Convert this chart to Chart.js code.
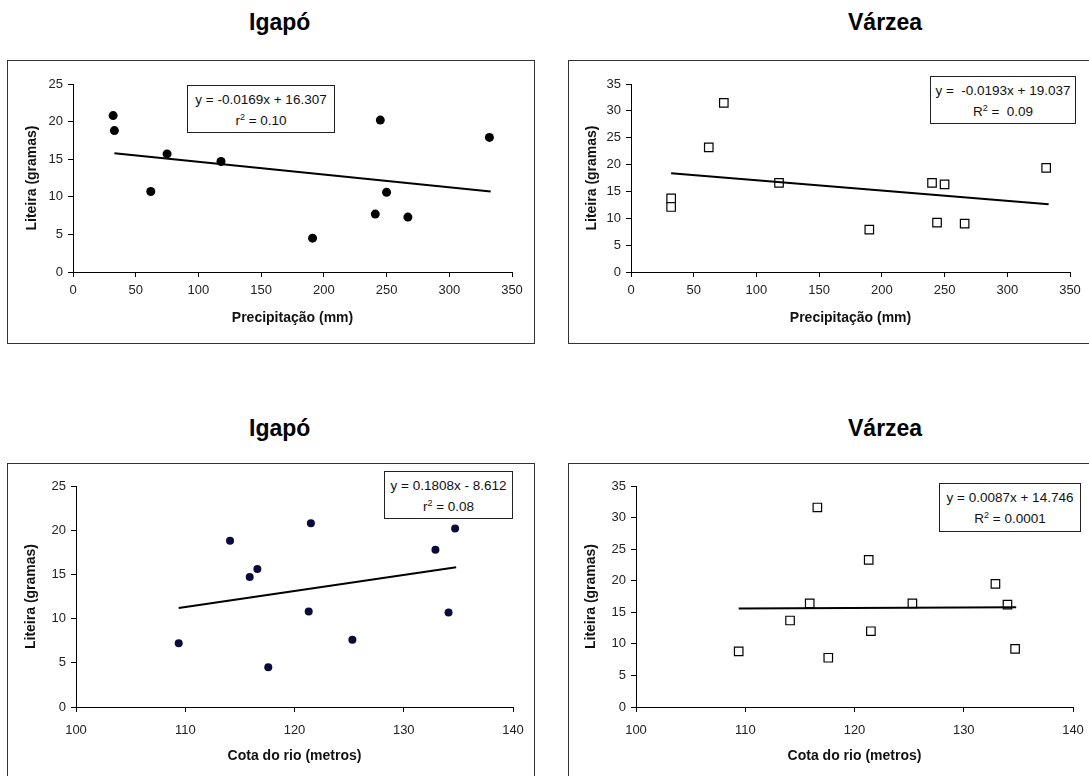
<!DOCTYPE html>
<html>
<head>
<meta charset="utf-8">
<script src="https://cdn.jsdelivr.net/npm/chart.js@4.4.0/dist/chart.umd.min.js"></script>
<style>
  body { margin: 0; width: 1089px; height: 776px; overflow: hidden; background: #fff; position: relative;
         font-family: "Liberation Sans", Arial, sans-serif; }
  .title { position: absolute; font-weight: bold; font-size: 23px; line-height: 23px; color: #000; white-space: nowrap; }
  .panel { position: absolute; box-sizing: border-box; border: 1.5px solid #333; pointer-events: none; }
  canvas { position: absolute; }
  .eq { position: absolute; box-sizing: border-box; border: 1.5px solid #222; background: #fff; text-align: center;
        font-size: 13.5px; line-height: 21px; padding-top: 3px; color: #111; white-space: nowrap; }
  .eq sup { font-size: 9px; vertical-align: 5px; line-height: 0; }
</style>
</head>
<body>
<div class="title" style="left:249px; top:11px;">Igapó</div>
<div class="title" style="left:848px; top:11px;">Várzea</div>
<div class="title" style="left:249px; top:417px;">Igapó</div>
<div class="title" style="left:848px; top:417px;">Várzea</div>

<canvas id="igapoPrecipChart" width="528" height="284" style="left:7px; top:60px;"></canvas>
<canvas id="varzeaPrecipChart" width="560" height="284" style="left:568px; top:60px;"></canvas>
<canvas id="igapoCotaChart" width="528" height="340" style="left:7px; top:463px;"></canvas>
<canvas id="varzeaCotaChart" width="560" height="340" style="left:568px; top:463px;"></canvas>

<div class="panel" style="left:7px; top:60px; width:528px; height:284px;"></div>
<div class="panel" style="left:568px; top:60px; width:560px; height:284px;"></div>
<div class="panel" style="left:7px; top:463px; width:528px; height:340px;"></div>
<div class="panel" style="left:568px; top:463px; width:560px; height:340px;"></div>

<div class="eq" style="left:187px; top:85px; width:148px; height:48px;">y = -0.0169x + 16.307<br>r<sup>2</sup> = 0.10</div>
<div class="eq" style="left:930px; top:76px; width:146px; height:48px;">y =&nbsp; -0.0193x + 19.037<br>R<sup>2</sup> =&nbsp; 0.09</div>
<div class="eq" style="left:384px; top:471px; width:129px; height:48px;">y = 0.1808x - 8.612<br>r<sup>2</sup> = 0.08</div>
<div class="eq" style="left:939px; top:483px; width:142px; height:49px;">y = 0.0087x + 14.746<br>R<sup>2</sup> = 0.0001</div>

<script>
// Igapó - litter vs precipitation
const igapoPrecip = [32, 33, 62, 75, 118, 191, 241, 245, 250, 267, 332];
const igapoLitterByPrecip = [20.8, 18.8, 10.7, 15.7, 14.7, 4.5, 7.7, 20.2, 10.6, 7.3, 17.9];
const igapoPrecipTrendX = [33, 333];
const igapoPrecipTrendY = [15.8, 10.7];

// Várzea - litter vs precipitation
const varzeaPrecip = [32, 32, 62, 74, 118, 190, 240, 244, 250, 266, 331];
const varzeaLitterByPrecip = [13.7, 12.1, 23.2, 31.5, 16.6, 7.9, 16.6, 9.2, 16.3, 9.0, 19.4];
const varzeaPrecipTrendX = [32, 333];
const varzeaPrecipTrendY = [18.4, 12.6];

// Igapó - litter vs river level
const igapoCota = [109.4, 114.1, 115.9, 116.6, 117.6, 121.3, 121.5, 125.3, 132.9, 134.1, 134.7];
const igapoLitterByCota = [7.2, 18.8, 14.7, 15.6, 4.5, 10.8, 20.8, 7.6, 17.8, 10.7, 20.2];
const igapoCotaTrendX = [109.4, 134.8];
const igapoCotaTrendY = [11.2, 15.8];

// Várzea - litter vs river level
const varzeaCota = [109.4, 114.1, 115.9, 116.6, 117.6, 121.3, 121.5, 125.3, 132.9, 134.0, 134.7];
const varzeaLitterByCota = [8.8, 13.7, 16.4, 31.6, 7.8, 23.3, 12.0, 16.4, 19.5, 16.2, 9.2];
const varzeaCotaTrendX = [109.4, 134.8];
const varzeaCotaTrendY = [15.6, 15.8];

// tick labels
const precipTicks = [0, 50, 100, 150, 200, 250, 300, 350];
const cotaTicks = [100, 110, 120, 130, 140];
const litterTicks25 = [0, 5, 10, 15, 20, 25];
const litterTicks35 = [0, 5, 10, 15, 20, 25, 30, 35];

const family = '"Liberation Sans", Arial, sans-serif';

const dot = { pointStyle: 'circle', pointRadius: 4.5, pointBackgroundColor: '#000', pointBorderColor: '#000', pointBorderWidth: 0 };
const navyDot = { pointStyle: 'circle', pointRadius: 4, pointBackgroundColor: '#0b0b3b', pointBorderColor: '#0b0b3b', pointBorderWidth: 0 };
const square = { pointStyle: 'rect', pointRadius: 6, pointBackgroundColor: '#fff', pointBorderColor: '#000', pointBorderWidth: 1.2 };

const toPoints = (xs, ys) => xs.map((x, i) => ({ x: x, y: ys[i] }));

function makeChart(id, c) {
    new Chart(document.getElementById(id), {
        type: 'scatter',
        data: {
            datasets: [
                {
                    type: 'line',
                    data: toPoints(c.trendX, c.trendY),
                    borderColor: '#000',
                    borderWidth: 2,
                    pointRadius: 0,
                    fill: false
                },
                Object.assign({ data: toPoints(c.x, c.y) }, c.marker)
            ]
        },
        options: {
            responsive: false,
            animation: false,
            layout: { padding: { left: 0, top: c.padTop, right: c.padRight, bottom: 0 } },
            plugins: { legend: { display: false }, tooltip: { enabled: false } },
            scales: {
                x: {
                    type: 'linear',
                    min: c.xTicks[0],
                    max: c.xTicks[c.xTicks.length - 1],
                    afterBuildTicks: s => { s.ticks = c.xTicks.map(v => ({ value: v })); },
                    afterFit: s => { s.height = c.xHeight; },
                    grid: { drawOnChartArea: false, drawTicks: true, tickLength: 5, color: '#000' },
                    border: { color: '#000', width: 1 },
                    ticks: { color: '#222', padding: c.xTickPad, font: { family: family, size: 13 } },
                    title: {
                        display: true, text: c.xTitle, color: '#111',
                        font: { family: family, size: 14, weight: 'bold' },
                        padding: { top: 0, bottom: c.xTitlePad }
                    }
                },
                y: {
                    min: c.yTicks[0],
                    max: c.yTicks[c.yTicks.length - 1],
                    afterBuildTicks: s => { s.ticks = c.yTicks.map(v => ({ value: v })); },
                    afterFit: s => { s.width = c.yWidth; },
                    grid: { drawOnChartArea: false, drawTicks: true, tickLength: 5, color: '#000' },
                    border: { color: '#000', width: 1 },
                    ticks: { color: '#222', padding: 5, font: { family: family, size: 13 } },
                    title: {
                        display: true, text: 'Liteira (gramas)', color: '#111',
                        font: { family: family, size: 14, weight: 'bold' },
                        padding: { top: c.yTitlePad, bottom: 0 }
                    }
                }
            }
        }
    });
}

makeChart('igapoPrecipChart', {
    x: igapoPrecip, y: igapoLitterByPrecip, trendX: igapoPrecipTrendX, trendY: igapoPrecipTrendY,
    marker: dot, xTicks: precipTicks, yTicks: litterTicks25, xTitle: 'Precipitação (mm)',
    padTop: 24, padRight: 23, yWidth: 66, xHeight: 72, xTickPad: 6, xTitlePad: 17.6, yTitlePad: 16.6
});

makeChart('varzeaPrecipChart', {
    x: varzeaPrecip, y: varzeaLitterByPrecip, trendX: varzeaPrecipTrendX, trendY: varzeaPrecipTrendY,
    marker: square, xTicks: precipTicks, yTicks: litterTicks35, xTitle: 'Precipitação (mm)',
    padTop: 24, padRight: 58, yWidth: 63, xHeight: 72, xTickPad: 6, xTitlePad: 17.6, yTitlePad: 15.6
});

makeChart('igapoCotaChart', {
    x: igapoCota, y: igapoLitterByCota, trendX: igapoCotaTrendX, trendY: igapoCotaTrendY,
    marker: navyDot, xTicks: cotaTicks, yTicks: litterTicks25, xTitle: 'Cota do rio (metros)',
    padTop: 23, padRight: 22, yWidth: 69, xHeight: 96, xTickPad: 11, xTitlePad: 38.6, yTitlePad: 15.6
});

makeChart('varzeaCotaChart', {
    x: varzeaCota, y: varzeaLitterByCota, trendX: varzeaCotaTrendX, trendY: varzeaCotaTrendY,
    marker: square, xTicks: cotaTicks, yTicks: litterTicks35, xTitle: 'Cota do rio (metros)',
    padTop: 23, padRight: 55, yWidth: 68, xHeight: 96, xTickPad: 11, xTitlePad: 38.6, yTitlePad: 14.6
});
</script>
</body>
</html>
